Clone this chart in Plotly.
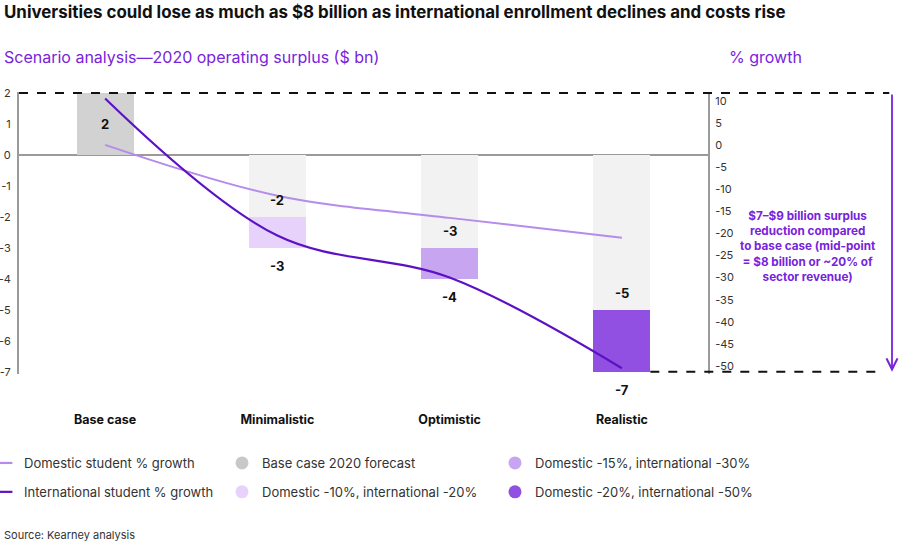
import plotly.graph_objects as go

# ---------------- data ----------------
categories = ["Base case", "Minimalistic", "Optimistic", "Realistic"]
base_case_surplus = [2]                     # $ bn, base case 2020 forecast
scenario_top = [-2, -3, -5]                 # upper end of surplus range ($ bn)
scenario_bottom = [-3, -4, -7]              # lower end of surplus range ($ bn)
scenario_names = ["Domestic -10%, international -20%",
                  "Domestic -15%, international -30%",
                  "Domestic -20%, international -50%"]
domestic_growth = [0, -11.5, -16.5, -21]    # % growth
international_growth = [10.5, -20.5, -30, -50.5]

left_ticks = [2, 1, 0, -1, -2, -3, -4, -5, -6, -7]
right_ticks = [10, 5, 0, -5, -10, -15, -20, -25, -30, -35, -40, -45, -50]

# ---------------- style ----------------
FONT = "Inter"
PURPLE = "#7823DC"
scenario_colors = ["#E6D2FA", "#C8A5F0", "#9150E1"]
base_grey = "#D2D2D2"
bg_grey = "#F2F2F2"
dom_color = "#B58BEB"
intl_color = "#5C12C4"
BAR_W = 0.33
X_RANGE = [-0.5, 3.5]
Y_RANGE = [-7.07, 2.03]
Y2_RANGE = [-51.8, 11.96]

x_idx = list(range(len(categories)))
scen_x = x_idx[1:]

fig = go.Figure()

# base case bar
fig.add_trace(go.Bar(x=[x_idx[0]], y=base_case_surplus, width=BAR_W,
                     marker=dict(color=base_grey, line=dict(width=0)),
                     showlegend=False, hoverinfo="skip"))
# grey background bars for scenarios (0 -> top of range)
fig.add_trace(go.Bar(x=scen_x, y=scenario_top, base=[0] * len(scen_x), width=BAR_W,
                     marker=dict(color=bg_grey, line=dict(width=0)),
                     showlegend=False, hoverinfo="skip"))
# scenario range bars
for xi, t, b, c in zip(scen_x, scenario_top, scenario_bottom, scenario_colors):
    fig.add_trace(go.Bar(x=[xi], y=[b - t], base=[t], width=BAR_W,
                         marker=dict(color=c, line=dict(width=0)),
                         showlegend=False, hoverinfo="skip"))

# growth lines (secondary axis)
fig.add_trace(go.Scatter(x=x_idx, y=domestic_growth, yaxis="y2", mode="lines",
                         line=dict(color=dom_color, width=2, shape="spline", smoothing=1),
                         showlegend=False, hoverinfo="skip"))
fig.add_trace(go.Scatter(x=x_idx, y=international_growth, yaxis="y2", mode="lines",
                         line=dict(color=intl_color, width=2.2, shape="spline", smoothing=1),
                         showlegend=False, hoverinfo="skip"))

# ---------------- legend entries ----------------
def leg_line(name, color, legend, group):
    fig.add_trace(go.Scatter(x=[None], y=[None], mode="markers", name=name,
                             marker=dict(symbol="line-ew", size=12,
                                         line=dict(color=color, width=2.2)),
                             legend=legend, legendgroup=group))

def leg_dot(name, color, legend, group):
    fig.add_trace(go.Scatter(x=[None], y=[None], mode="markers", name=name,
                             marker=dict(symbol="circle", size=13, color=color),
                             legend=legend, legendgroup=group))

leg_line("Domestic student % growth", dom_color, "legend", "a")
leg_line("International student % growth", intl_color, "legend", "b")
leg_dot("Base case 2020 forecast", "#C8C8C8", "legend2", "c")
leg_dot(scenario_names[0], scenario_colors[0], "legend2", "d")
leg_dot(scenario_names[1], scenario_colors[1], "legend3", "e")
leg_dot(scenario_names[2], scenario_colors[2], "legend3", "f")

# ---------------- value labels ----------------
annotations = []
lbl_font = dict(family=FONT, size=13, color="#111111")
annotations.append(dict(x=x_idx[0], y=base_case_surplus[0] / 2, xref="x", yref="y",
                        text="<b>%d</b>" % base_case_surplus[0], showarrow=False,
                        font=lbl_font))
for xi, t, b in zip(scen_x, scenario_top, scenario_bottom):
    annotations.append(dict(x=xi, y=t, xref="x", yref="y", text="<b>%d</b>" % t,
                            showarrow=False, yshift=17, font=lbl_font))
    annotations.append(dict(x=xi, y=b, xref="x", yref="y", text="<b>%d</b>" % b,
                            showarrow=False, yshift=-18, font=lbl_font))


def px_x(p):
    return (p - 19) / 689.0


def px_y(p):
    return (374 - p) / 282.0


# right-side explanatory text and arrow
ARROW_X = px_x(892)
annotations.append(dict(x=px_x(808), y=px_y(246), xref="paper", yref="paper",
                        text="<b>$7–$9 billion surplus<br>reduction compared<br>to base case (mid-point<br>= $8 billion or ~20% of<br>sector revenue)</b>",
                        showarrow=False, align="center", xanchor="center", yanchor="middle",
                        font=dict(family=FONT, size=11.7, color=PURPLE)))
annotations.append(dict(x=ARROW_X, y=scenario_bottom[-1], xref="paper", yref="y",
                        ax=0, ay=base_case_surplus[0], ayref="y", axref="pixel",
                        showarrow=True, arrowhead=5, arrowsize=1.2, arrowwidth=1.8,
                        arrowcolor=PURPLE, text=""))

# titles
annotations.append(dict(x=px_x(2), y=px_y(12), xref="paper", yref="paper", xanchor="left",
                        yanchor="middle", showarrow=False,
                        text="<b>Universities could lose as much as $8 billion as international enrollment declines and costs rise</b>",
                        font=dict(family=FONT, size=16.9, color="#111111")))
annotations.append(dict(x=px_x(2), y=px_y(57), xref="paper", yref="paper", xanchor="left",
                        yanchor="middle", showarrow=False,
                        text="Scenario analysis—2020 operating surplus ($ bn)",
                        font=dict(family=FONT, size=16, color=PURPLE)))
annotations.append(dict(x=px_x(727), y=px_y(57), xref="paper", yref="paper", xanchor="left",
                        yanchor="middle", showarrow=False, text="% growth",
                        font=dict(family=FONT, size=16, color=PURPLE)))
annotations.append(dict(x=px_x(2), y=px_y(535), xref="paper", yref="paper", xanchor="left",
                        yanchor="middle", showarrow=False, text="Source: Kearney analysis",
                        font=dict(family=FONT, size=11, color="#333333")))

# dashed reference lines
shapes = [
    dict(type="line", xref="paper", yref="y", x0=0, x1=ARROW_X - 0.004,
         y0=base_case_surplus[0], y1=base_case_surplus[0],
         line=dict(color="#111111", width=2, dash="dash")),
    dict(type="line", xref="paper", yref="y",
         x0=(scen_x[-1] + BAR_W / 2 - X_RANGE[0]) / (X_RANGE[1] - X_RANGE[0]),
         x1=ARROW_X - 0.012,
         y0=scenario_bottom[-1], y1=scenario_bottom[-1],
         line=dict(color="#111111", width=2, dash="dash")),
]

leg_common = dict(orientation="v", xanchor="left", yanchor="top",
                  font=dict(family=FONT, size=13, color="#333333"),
                  bgcolor="rgba(0,0,0,0)", tracegroupgap=9, itemclick=False,
                  itemdoubleclick=False)

fig.update_layout(
    width=900, height=543,
    margin=dict(l=19, r=192, t=92, b=169, pad=0, autoexpand=False),
    paper_bgcolor="white", plot_bgcolor="white",
    barmode="overlay", bargap=0,
    font=dict(family=FONT, size=11, color="#333333"),
    hovermode=False,
    xaxis=dict(range=X_RANGE, tickvals=x_idx,
               ticktext=["<b>%s</b>" % c for c in categories],
               tickfont=dict(family=FONT, size=12.5, color="#111111"),
               showgrid=False, zeroline=False, showline=False, ticks="",
               ticklabelstandoff=36, fixedrange=True, automargin=False),
    yaxis=dict(range=Y_RANGE, tickvals=left_ticks, ticktext=[str(v) for v in left_ticks],
               showgrid=False, zeroline=True, zerolinecolor="#9A9A9A", zerolinewidth=2,
               showline=True, linecolor="#9A9A9A", linewidth=2, ticks="",
               tickfont=dict(family=FONT, size=11, color="#333333"),
               ticklabelstandoff=4, automargin=False, fixedrange=True),
    yaxis2=dict(range=Y2_RANGE, overlaying="y", side="right", tickvals=right_ticks,
                ticktext=[str(v) for v in right_ticks],
                showgrid=False, zeroline=False, showline=True, linecolor="#9A9A9A",
                linewidth=2, ticks="", tickfont=dict(family=FONT, size=11, color="#333333"),
                ticklabelstandoff=3, automargin=False, fixedrange=True),
    legend=dict(x=px_x(-16), y=px_y(448), **leg_common),
    legend2=dict(x=px_x(222), y=px_y(448), **leg_common),
    legend3=dict(x=px_x(495), y=px_y(448), **leg_common),
    annotations=annotations,
    shapes=shapes,
)

fig.write_html("out.html", config={"displayModeBar": False},
               post_script="document.body.style.margin='0px';document.body.style.overflow='hidden';")
